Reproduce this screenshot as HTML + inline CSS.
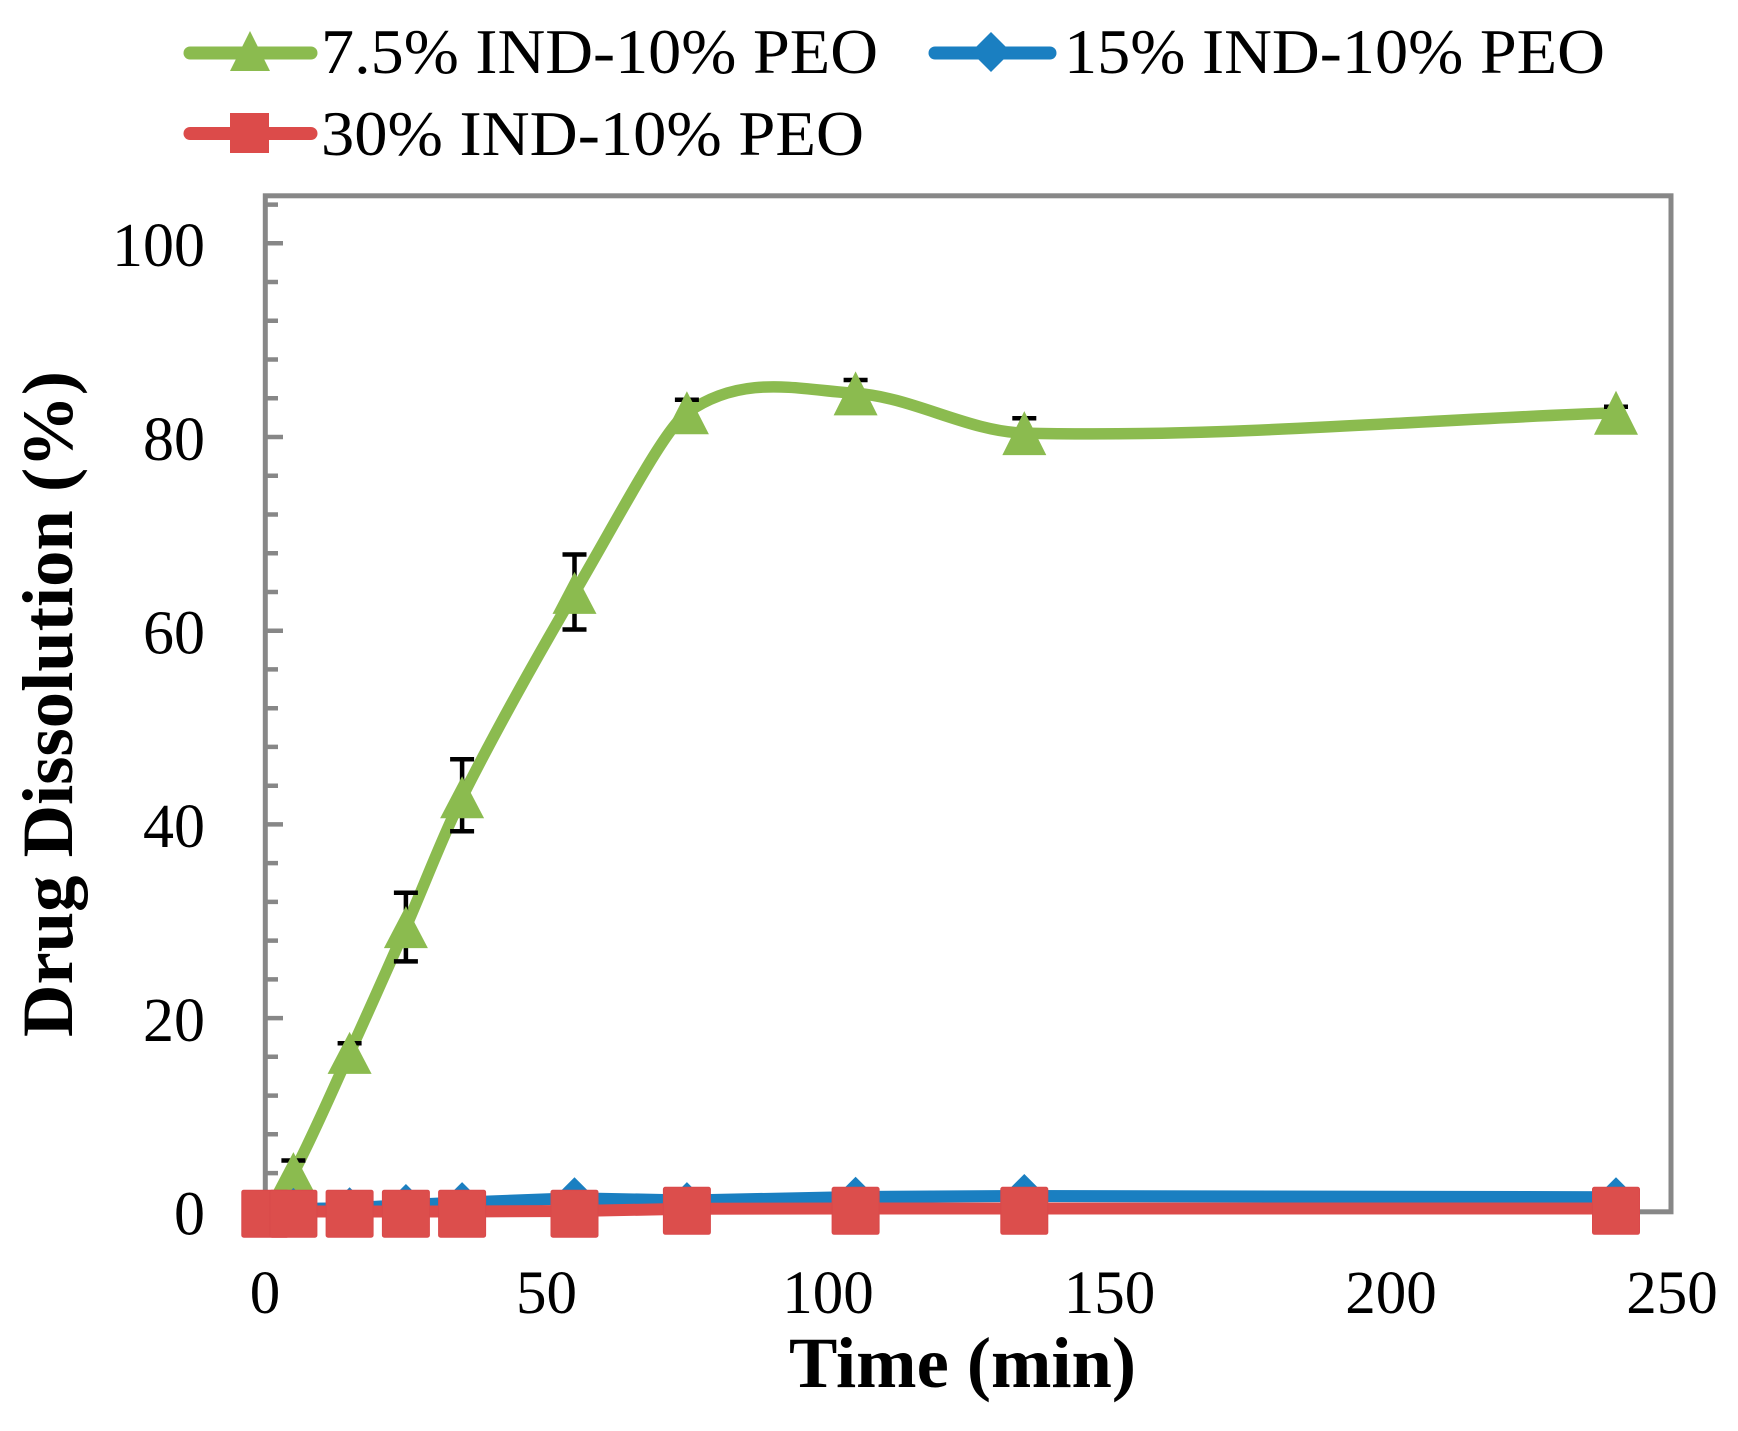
<!DOCTYPE html>
<html>
<head>
<meta charset="utf-8">
<style>
  html, body { margin: 0; padding: 0; background: #ffffff; }
  svg { display: block; }
  text { font-family: "Liberation Serif", "Times New Roman", serif; fill: #000; }
</style>
</head>
<body>
<svg width="1738" height="1431" viewBox="0 0 1738 1431" xmlns="http://www.w3.org/2000/svg">
  <rect x="0" y="0" width="1738" height="1431" fill="#ffffff"/>

  <!-- Legend -->
  <line x1="190" y1="53" x2="311" y2="53" stroke="#8bbb4f" stroke-width="13" stroke-linecap="round"/>
  <polygon points="250,31 270,71 230,71" fill="#8bbb4f"/>
  <text x="321" y="73" font-size="64" textLength="557" lengthAdjust="spacingAndGlyphs">7.5% IND-10% PEO</text>

  <line x1="935" y1="53" x2="1050" y2="53" stroke="#1a7fc1" stroke-width="13" stroke-linecap="round"/>
  <polygon points="991,32 1011,52 991,72 971,52" fill="#1a7fc1"/>
  <text x="1064" y="73" font-size="64" textLength="541" lengthAdjust="spacingAndGlyphs">15% IND-10% PEO</text>

  <line x1="190" y1="133.5" x2="311" y2="133.5" stroke="#dc4b4a" stroke-width="13" stroke-linecap="round"/>
  <rect x="230" y="113" width="39" height="40" fill="#dc4b4a"/>
  <text x="321" y="155" font-size="64" textLength="543" lengthAdjust="spacingAndGlyphs">30% IND-10% PEO</text>

  <!-- Y ticks -->
  <path stroke="#878787" stroke-width="4.5" fill="none" d="
    M265,1173.1 H278 M265,1134.3 H278 M265,1095.6 H278 M265,1056.8 H278
    M265,1018.1 H283
    M265,979.4 H278 M265,940.6 H278 M265,901.9 H278 M265,863.1 H278
    M265,824.4 H283
    M265,785.7 H278 M265,746.9 H278 M265,708.2 H278 M265,669.4 H278
    M265,630.7 H283
    M265,592.0 H278 M265,553.2 H278 M265,514.5 H278 M265,475.7 H278
    M265,437.0 H283
    M265,398.3 H278 M265,359.5 H278 M265,320.8 H278 M265,282.0 H278
    M265,243.3 H283
    M265,204.6 H278"/>

  <!-- Plot frame -->
  <rect x="265.3" y="195.8" width="1405.7" height="1016" fill="none" stroke="#878787" stroke-width="5"/>

  <!-- Y tick labels -->
  <g font-size="62" text-anchor="end">
    <text x="205" y="266">100</text>
    <text x="205" y="460">80</text>
    <text x="205" y="653.5">60</text>
    <text x="205" y="847">40</text>
    <text x="205" y="1041">20</text>
    <text x="205" y="1234.5">0</text>
  </g>

  <!-- X tick labels -->
  <g font-size="61" text-anchor="middle">
    <text x="265" y="1313">0</text>
    <text x="546.5" y="1313">50</text>
    <text x="828" y="1313">100</text>
    <text x="1109.5" y="1313">150</text>
    <text x="1391" y="1313">200</text>
    <text x="1672" y="1313">250</text>
  </g>

  <!-- Axis titles -->
  <text x="962.5" y="1387" font-size="72" font-weight="bold" text-anchor="middle" textLength="347" lengthAdjust="spacingAndGlyphs">Time (min)</text>
  <text transform="translate(72,704) rotate(-90)" font-size="72" font-weight="bold" text-anchor="middle" textLength="666" lengthAdjust="spacingAndGlyphs">Drug Dissolution (%)</text>

  <!-- Green series (7.5%) -->
  <path fill="none" stroke="#8bbb4f" stroke-width="11.5" stroke-linejoin="round" stroke-linecap="round"
    d="M265.3,1211.8 C274.7,1198.9 284.0,1190.8 293.4,1173.1
       C312.1,1137.8 330.9,1093.9 349.6,1052.9
       C368.4,1011.9 387.1,969.7 405.9,927.1
       C424.6,884.5 443.4,834.4 462.1,797.3
       C499.6,723.0 537.0,657.0 574.5,592.9
       C620.0,515.0 665.0,428.0 686.9,412.8
       C743.1,372.9 799.4,390.0 855.6,393.4
       C911.8,396.8 968.1,431.7 1024.3,433.1
       C1221.1,438.1 1417.8,419.6 1616.0,412.8"/>

  <!-- Error bars -->
  <g stroke="#000" stroke-width="4.5" fill="none">
    <path d="M293.4,1160.5 V1185.7 M281.4,1160.5 H305.4 M281.4,1185.7 H305.4"/>
    <path d="M349.6,1043.2 V1062.6 M337.6,1043.2 H361.6 M337.6,1062.6 H361.6"/>
    <path d="M405.9,892.8 V961.4 M393.9,892.8 H417.9 M393.9,961.4 H417.9"/>
    <path d="M462.1,759.3 V831.3 M450.1,759.3 H474.1 M450.1,831.3 H474.1"/>
    <path d="M574.5,554.5 V629.5 M562.5,554.5 H586.5 M562.5,629.5 H586.5"/>
    <path d="M686.9,399.8 V425.8 M674.9,399.8 H698.9 M674.9,425.8 H698.9"/>
    <path d="M855.6,380.0 V406.8 M843.6,380.0 H867.6 M843.6,406.8 H867.6"/>
    <path d="M1024.3,418.3 V447.9 M1012.3,418.3 H1036.3 M1012.3,447.9 H1036.3"/>
    <path d="M1616.0,406.8 V418.8 M1604.0,406.8 H1628.0 M1604.0,418.8 H1628.0"/>
  </g>

  <!-- Green triangles -->
  <g fill="#8bbb4f">
    <polygon points="293.4,1152.1 315.4,1194.1 271.4,1194.1"/>
    <polygon points="349.6,1031.9 371.6,1073.9 327.6,1073.9"/>
    <polygon points="405.9,906.1 427.9,948.1 383.9,948.1"/>
    <polygon points="462.1,776.3 484.1,818.3 440.1,818.3"/>
    <polygon points="574.5,571.9 596.5,613.9 552.5,613.9"/>
    <polygon points="686.9,391.3 708.9,434.3 664.9,434.3"/>
    <polygon points="855.6,371.4 877.6,415.4 833.6,415.4"/>
    <polygon points="1024.3,411.1 1046.3,455.1 1002.3,455.1"/>
    <polygon points="1616.0,390.8 1638.0,434.8 1594.0,434.8"/>
  </g>

  <!-- Blue series (15%) -->
  <polyline fill="none" stroke="#1a7fc1" stroke-width="12" stroke-linejoin="round"
    points="265.3,1211.8 293.4,1208.9 349.6,1208.3 405.9,1205.0 462.1,1202.5 574.5,1198.2 686.9,1200.5 855.6,1197.0 1024.3,1196.0 1616.0,1197.2"/>
  <g fill="#1a7fc1">
    <polygon points="265.3,1190.8 286.3,1211.8 265.3,1232.8 244.3,1211.8"/>
    <polygon points="293.4,1187.9 314.4,1208.9 293.4,1229.9 272.4,1208.9"/>
    <polygon points="349.6,1187.3 370.6,1208.3 349.6,1229.3 328.6,1208.3"/>
    <polygon points="405.9,1184.0 426.9,1205.0 405.9,1226.0 384.9,1205.0"/>
    <polygon points="462.1,1182.1 483.1,1203.1 462.1,1224.1 441.1,1203.1"/>
    <polygon points="574.5,1177.2 595.5,1198.2 574.5,1219.2 553.5,1198.2"/>
    <polygon points="686.9,1182.1 707.9,1203.1 686.9,1224.1 665.9,1203.1"/>
    <polygon points="855.6,1176.8 876.6,1197.8 855.6,1218.8 834.6,1197.8"/>
    <polygon points="1024.3,1174.0 1045.3,1195.0 1024.3,1216.0 1003.3,1195.0"/>
    <polygon points="1616.0,1177.3 1637.0,1198.3 1616.0,1219.3 1595.0,1198.3"/>
  </g>

  <!-- Red series (30%) -->
  <polyline fill="none" stroke="#dc4b4a" stroke-width="12" stroke-linejoin="round"
    points="265.3,1211.5 293.4,1211.5 349.6,1211.5 405.9,1211.5 462.1,1211.5 574.5,1211.0 686.9,1208.8 855.6,1208.5 1024.3,1208.5 1616.0,1208.5"/>
  <g fill="#dc4e4c" stroke="#d9494a" stroke-width="1">
    <rect x="241.8" y="1190.2" width="47" height="47" rx="2"/>
    <rect x="269.9" y="1190.2" width="47" height="47" rx="2"/>
    <rect x="326.1" y="1190.2" width="47" height="47" rx="2"/>
    <rect x="382.4" y="1190.2" width="47" height="47" rx="2"/>
    <rect x="438.6" y="1190.2" width="47" height="47" rx="2"/>
    <rect x="551.0" y="1190.2" width="47" height="47" rx="2"/>
    <rect x="663.4" y="1187.3" width="47" height="47" rx="2"/>
    <rect x="832.1" y="1187.3" width="47" height="47" rx="2"/>
    <rect x="1000.8" y="1187.3" width="47" height="47" rx="2"/>
    <rect x="1592.5" y="1187.3" width="47" height="47" rx="2"/>
  </g>
</svg>
</body>
</html>
